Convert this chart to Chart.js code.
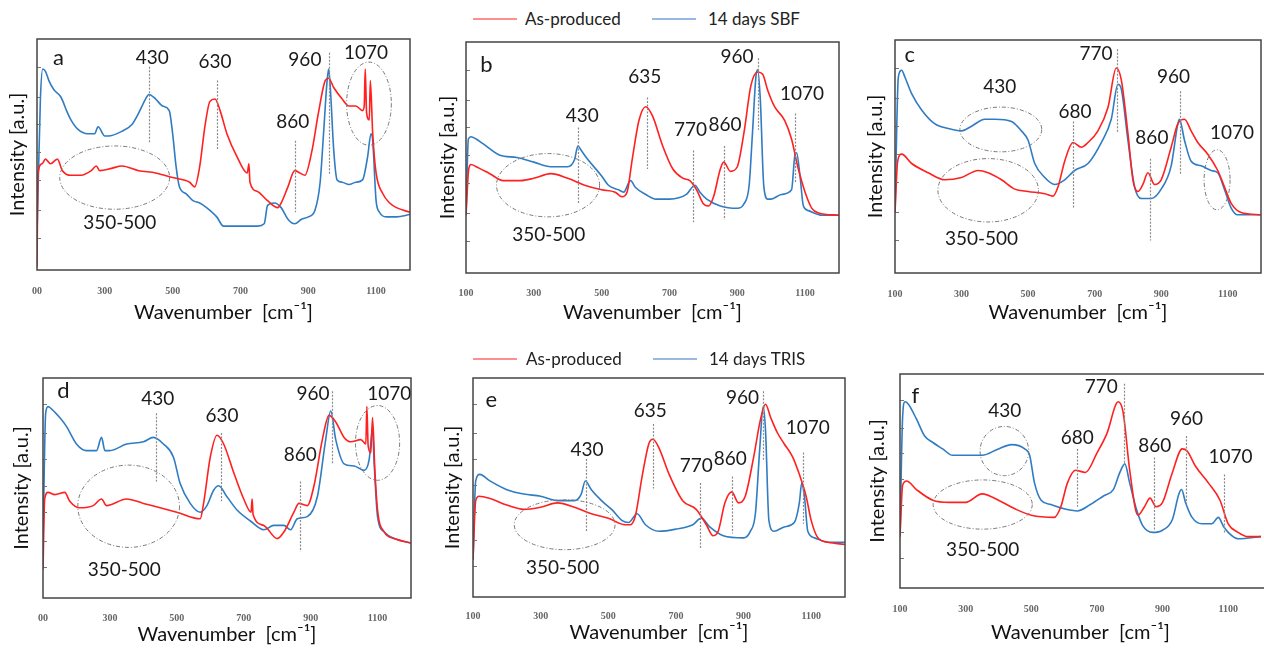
<!DOCTYPE html>
<html><head><meta charset="utf-8">
<script src="https://cdn.jsdelivr.net/npm/chart.js@4.4.1/dist/chart.umd.min.js"></script>
<style>
html,body{margin:0;padding:0;background:#fff;width:1264px;height:648px;overflow:hidden;font-family:Lato,"Open Sans",sans-serif;}
.pc{position:absolute;}
.lg{position:absolute;font-family:Lato,sans-serif;font-size:17px;color:#222;white-space:nowrap;z-index:5;}
.ln{position:absolute;height:2px;z-index:5;}
</style></head><body>

<div class="ln" style="left:473px;top:18px;width:44px;background:#ff8e8e"></div>
<div class="lg" style="left:525px;top:8px">As-produced</div>
<div class="ln" style="left:652px;top:18px;width:44px;background:#98b9e4"></div>
<div class="lg" style="left:708px;top:8px">14 days SBF</div>
<div class="ln" style="left:473px;top:358px;width:44px;background:#ff8e8e"></div>
<div class="lg" style="left:526px;top:348px">As-produced</div>
<div class="ln" style="left:653px;top:358px;width:44px;background:#98b9e4"></div>
<div class="lg" style="left:709px;top:348px">14 days TRIS</div>

<canvas id="ca" class="pc"></canvas>
<canvas id="cb" class="pc"></canvas>
<canvas id="cc" class="pc"></canvas>
<canvas id="cd" class="pc"></canvas>
<canvas id="ce" class="pc"></canvas>
<canvas id="cf" class="pc"></canvas>

<script>
// ---- tick labels ----
const xTickValues = [100, 300, 500, 700, 900, 1100];
const xTickLabelsCut = ['00', '300', '500', '700', '900', '1100'];
const xTickLabelsFull = ['100', '300', '500', '700', '900', '1100'];
const yTickValues = [14, 26, 39, 51, 63, 75, 88];
const seriesNames = ['As-produced', '14 days SBF', '14 days TRIS'];

// ---- panel a ----
const aRedX = [100,103,115,125,140,160,175,200,230,260,275,285,320,350,400,450,500,550,565,580,595,610,625,640,660,690,720,725,728,750,780,810,820,840,860,875,890,910,930,950,960,975,1000,1020,1040,1060,1065,1068,1072,1080,1083,1090,1100,1120,1140,1160,1200];
const aRedY = [1.5,42,46,48,46,48,43,41,41,43,45,43,44,45,43,42,40,38,36,45,62,73,74,69,59,49,42,46,38,34,30,27,29,36,43,42,41,51,68,82,83,79,74,71,71,69,71,87,68,65,82,59,42,33,29,27,25];
const aBlueX = [100,110,117,125,135,150,170,190,200,220,250,270,280,300,310,350,380,400,420,430,450,470,490,500,510,520,540,560,580,600,630,650,700,750,770,780,800,820,840,860,880,900,920,935,945,955,960,965,975,985,1000,1020,1040,1060,1075,1085,1090,1100,1110,1130,1160,1200];
const aBlueY = [15,74,87,86,82,78,75,68,65,61,59,59,62,58,58,60,63,68,74,76,74,71,69,59,45,36,33,30,29,27,23,19,19,19,20,28,29,27,22,20,22,23,26,38,59,81,87,79,52,39,38,37,38,39,49,59,56,30,25,23,23,24];

// ---- panel b ----
const bRedX = [100,108,115,130,170,210,260,300,350,400,450,500,540,560,575,590,610,630,650,680,710,740,760,780,800,815,830,850,860,880,900,920,940,960,975,990,1010,1040,1060,1080,1100,1120,1140,1200];
const bRedY = [25,45,47,46,43,40,40,41,43,41,38,36,35,33,35,49,66,72,68,55,45,41,40,36,30,29,33,45,48,44,46,61,81,87,86,79,72,66,58,45,35,28,26,25];
const bBlueX = [100,107,115,130,150,200,250,300,350,400,420,430,440,460,500,520,550,565,585,600,630,660,700,750,775,790,810,850,900,920,935,945,955,960,968,978,990,1000,1030,1060,1070,1075,1085,1095,1110,1150,1200];
const bBlueY = [25,58,59,58,56,51,50,48,46,46,49,55,53,49,42,38,36,35,40,37,34,32,32,34,38,35,32,29,28,30,38,61,85,88,75,38,32,32,34,36,51,52,42,29,27,25,25];

// ---- panel c ----
const cRedX = [100,108,120,150,200,250,300,350,380,420,460,500,550,575,590,610,635,660,680,710,740,765,780,800,815,830,845,860,880,900,930,950,970,990,1010,1040,1070,1090,1110,1140,1200];
const cRedY = [26,48,51,47,43,40,41,44,43,40,36,35,34,33,37,48,56,54,56,61,71,88,83,60,40,35,38,43,38,40,54,64,66,61,56,51,44,37,30,26,25];
const cBlueX = [100,110,120,130,150,180,220,260,300,330,370,400,450,480,500,520,550,580,610,640,680,720,750,770,780,800,820,840,870,900,930,950,955,970,990,1020,1050,1070,1090,1110,1130,1200];
const cBlueY = [26,84,87,84,77,70,64,62,61,63,66,66,65,61,57,47,41,38,40,44,47,56,66,81,79,57,37,32,32,36,46,64,66,57,48,46,44,43,36,28,25,25];

// ---- panel d ----
const dRedX = [100,105,115,135,165,180,210,250,275,290,350,400,450,500,570,580,600,620,640,670,700,722,725,728,760,800,820,850,865,890,910,935,955,975,1000,1020,1050,1065,1068,1072,1080,1085,1092,1100,1120,1150,1200];
const dRedY = [13,45,48,47,48,44,41,42,45,42,45,43,41,39,36,43,64,74,70,57,45,39,45,38,33,27,30,39,43,42,51,72,83,80,73,71,72,70,87,69,66,82,58,40,30,27,25];
const dBlueX = [100,108,115,125,150,170,200,230,260,275,285,300,350,400,430,460,490,510,540,570,590,610,625,650,680,720,760,790,820,840,860,890,920,945,960,975,1000,1030,1060,1075,1085,1090,1100,1120,1150,1200];
const dBlueY = [25,84,87,86,82,78,70,67,67,73,67,67,70,71,73,70,64,52,43,39,42,49,51,46,40,35,31,33,33,31,36,37,46,72,85,72,61,60,58,63,77,61,37,30,27,25];

// ---- panel e ----
const eRedX = [100,108,118,150,200,250,300,350,400,450,500,550,565,580,600,620,632,650,680,720,760,790,810,825,845,865,885,905,930,950,965,980,1000,1020,1045,1065,1085,1100,1120,1150,1200];
const eRedY = [17,44,46,45,42,40,41,43,41,38,36,33,33,37,55,70,72,68,56,44,40,33,28,30,43,48,43,46,64,81,88,82,75,70,64,56,46,35,27,25,24];
const eBlueX = [100,108,120,150,200,250,300,350,400,420,432,450,480,510,540,560,585,610,650,700,750,775,800,840,900,920,935,948,958,965,975,990,1020,1050,1065,1072,1080,1090,1110,1150,1200];
const eBlueY = [17,53,56,53,49,47,46,44,44,47,53,49,44,40,35,34,38,33,30,31,33,36,32,28,27,30,38,68,87,76,35,30,32,34,43,52,46,30,27,25,25];

// ---- panel f ----
const fRedX = [100,108,120,150,200,250,300,350,400,450,500,570,590,610,635,665,700,730,765,780,800,825,845,862,880,900,930,960,975,1000,1040,1075,1100,1130,1160,1200];
const fRedY = [24,48,50,46,41,40,40,44,41,37,34,33,38,49,55,54,63,72,87,82,55,34,38,42,38,40,54,65,64,57,49,41,30,26,24,24];
const fBlueX = [100,108,115,125,150,175,200,230,260,300,350,400,440,480,495,510,530,560,600,640,680,720,750,770,785,800,820,840,870,900,930,950,958,970,990,1020,1050,1070,1085,1100,1130,1200];
const fBlueY = [24,80,87,86,79,71,68,65,62,62,62,65,67,65,62,49,41,39,37,36,39,43,46,54,58,49,37,29,26,27,32,44,46,40,33,30,30,33,29,26,23,24];

// ---- annotations (text, x value, y value) ----
const annA = {letter:['a',163,92],
  labels:[['430',440,92],['630',625,90],['960',890,91],['1070',1070,94],['860',854,64],['350-500',344,20.5]],
  lines:[[430,88,55],[630,82,52],[960,94,41],[860,56,25]],
  ellipses:[[329,40,162,13.7],[1079,72,66,18]]};
const annB = {letter:['b',160,90],
  labels:[['430',443,68],['635',627,85],['770',762,62],['860',864,64],['960',899,93.5],['1070',1091,77.5],['350-500',344,16.6]],
  lines:[[430,63,30],[635,76,45],[770,53,22],[860,55,23],[960,93,62],[1070,69,39]],
  ellipses:[[342,38,152,13.7]]};
const annC = {letter:['c',144,93.6],
  labels:[['430',415,80],['680',641,69],['770',704,94],['860',872,58],['960',937,84],['1070',1113,60],['350-500',360,14.8]],
  lines:[[636,65,27.6],[767,96,60],[867,49,14],[957,78,42]],
  ellipses:[[418,61.6,123,9.6],[1068,40,39,12.9],[380,35.5,151,13.6]]};
const annD = {letter:['d',161,94],
  labels:[['430',443,90.6],['630',635,82.6],['860',869,65],['960',907,93],['1070',1135,93],['350-500',343,12.9]],
  lines:[[438,84,53],[633,75,44],[868,53,21],[965,94,61]],
  ellipses:[[356,41.7,152,18.7],[1100,70.5,66,17]]};
const annE = {letter:['e',154,90],
  labels:[['430',437,67.4],['635',624,85],['770',760,60],['860',861,63],['960',897,91],['1070',1090,77],['350-500',365,13.2]],
  lines:[[434,63,30],[631,79,49.5],[770,52,22],[865,55,29],[957,94,62],[1075,66,33.5]],
  ellipses:[[371,33,149,11.4]]};
const annF = {letter:['f',147,89.6],
  labels:[['430',419,83],['680',640,70],['770',713,94],['860',876,66.5],['960',973,79],['1070',1107,61.5],['350-500',352,18]],
  lines:[[640,65,38],[782,95.5,57.6],[873,61,27],[972,71,38],[1087,53,25.7]],
  ellipses:[[418,64,74,11.5],[352,39,151,11.5]]};

const RED = '#ff2020', BLUE = '#2f7cc3';

const panels = [
  {id:'ca', left:6,   top:29,  w:409, h:296, yW:31, xH:55, padR:5, tickPad:7, ticks:xTickLabelsCut,  red:[aRedX,aRedY], blue:[aBlueX,aBlueY], ann:annA, border:true, blueName:seriesNames[1]},
  {id:'cb', left:436, top:32,  w:408, h:293, yW:30, xH:52, padR:5, tickPad:6, ticks:xTickLabelsFull, red:[bRedX,bRedY], blue:[bBlueX,bBlueY], ann:annB, border:true, blueName:seriesNames[1]},
  {id:'cc', left:864, top:30,  w:399, h:295, yW:31, xH:52, padR:2, tickPad:7, ticks:xTickLabelsFull, red:[cRedX,cRedY], blue:[cBlueX,cBlueY], ann:annC, border:true, blueName:seriesNames[1]},
  {id:'cd', left:10,  top:368, w:405, h:279, yW:33, xH:49, padR:4, tickPad:6, ticks:xTickLabelsCut,  red:[dRedX,dRedY], blue:[dBlueX,dBlueY], ann:annD, border:true, blueName:seriesNames[2]},
  {id:'ce', left:441, top:368, w:408, h:277, yW:32, xH:48, padR:4, tickPad:5, ticks:xTickLabelsFull, red:[eRedX,eRedY], blue:[eBlueX,eBlueY], ann:annE, border:true, blueName:seriesNames[2]},
  {id:'cf', left:866, top:364, w:398, h:281, yW:34, xH:57, padR:3, tickPad:7, ticks:xTickLabelsFull, red:[fRedX,fRedY], blue:[fBlueX,fBlueY], ann:annF, border:false, blueName:seriesNames[2]}
];

const annotPlugin = {
  id: 'annot',
  afterDatasetsDraw(chart, args, opts) {
    const ctx = chart.ctx, xs = chart.scales.x, ys = chart.scales.y, ca = chart.chartArea;
    const A = opts.ann;
    ctx.save();
    ctx.strokeStyle = '#777'; ctx.lineWidth = 1;
    yTickValues.forEach(v => {
      const y = Math.round(ys.getPixelForValue(v)) + 0.5;
      ctx.beginPath(); ctx.moveTo(ca.left, y); ctx.lineTo(ca.left + 4, y); ctx.stroke();
    });
    ctx.strokeStyle = '#8a8a8a'; ctx.lineWidth = 1.2; ctx.setLineDash([2, 1.5]);
    A.lines.forEach(([x, y1, y2]) => {
      const px = Math.round(xs.getPixelForValue(x)) + 0.5;
      ctx.beginPath(); ctx.moveTo(px, ys.getPixelForValue(y1)); ctx.lineTo(px, ys.getPixelForValue(y2)); ctx.stroke();
    });
    ctx.strokeStyle = '#777'; ctx.lineWidth = 1; ctx.setLineDash([4, 2, 1, 2]);
    A.ellipses.forEach(([cx, cy, rx, ry]) => {
      const px = xs.getPixelForValue(cx), py = ys.getPixelForValue(cy);
      const prx = Math.abs(xs.getPixelForValue(cx + rx) - px), pry = Math.abs(ys.getPixelForValue(cy + ry) - py);
      ctx.beginPath(); ctx.ellipse(px, py, prx, pry, 0, 0, Math.PI * 2); ctx.stroke();
    });
    ctx.setLineDash([]);
    ctx.fillStyle = '#1a1a1a'; ctx.textAlign = 'center'; ctx.textBaseline = 'middle';
    ctx.font = '19px Lato, "Open Sans", sans-serif';
    A.labels.forEach(([t, x, y]) => ctx.fillText(t, xs.getPixelForValue(x), ys.getPixelForValue(y)));
    ctx.font = '22px Lato, "Open Sans", sans-serif';
    const L = A.letter;
    ctx.fillText(L[0], xs.getPixelForValue(L[1]), ys.getPixelForValue(L[2]));
    ctx.strokeStyle = '#444'; ctx.lineWidth = 1.5;
    if (opts.border) {
      ctx.strokeRect(ca.left, ca.top, ca.right - ca.left, ca.bottom - ca.top);
    } else {
      ctx.beginPath(); ctx.moveTo(ca.right + 3, ca.top); ctx.lineTo(ca.left, ca.top); ctx.lineTo(ca.left, ca.bottom); ctx.lineTo(ca.right + 3, ca.bottom); ctx.stroke();
    }
    ctx.restore();
  }
};

function toPts(xa, ya) { return xa.map((x, i) => ({x: x, y: ya[i]})); }

panels.forEach(p => {
  const cv = document.getElementById(p.id);
  cv.width = p.w; cv.height = p.h;
  cv.style.left = p.left + 'px'; cv.style.top = p.top + 'px';
  cv.style.width = p.w + 'px'; cv.style.height = p.h + 'px';
  new Chart(cv, {
    type: 'line',
    data: {
      datasets: [
        {label: seriesNames[0], data: toPts(p.red[0], p.red[1]), borderColor: RED, borderWidth: 1.6, pointRadius: 0, cubicInterpolationMode: 'monotone', fill: false},
        {label: p.blueName, data: toPts(p.blue[0], p.blue[1]), borderColor: BLUE, borderWidth: 1.6, pointRadius: 0, cubicInterpolationMode: 'monotone', fill: false}
      ]
    },
    options: {
      responsive: false, animation: false, devicePixelRatio: 1,
      layout: {padding: {top: 10, right: p.padR, left: 0, bottom: 0}},
      plugins: {legend: {display: false}, tooltip: {enabled: false}, annot: {ann: p.ann, border: p.border}},
      scales: {
        x: {
          type: 'linear', min: 100, max: 1200,
          afterBuildTicks: s => { s.ticks = xTickValues.map(v => ({value: v})); },
          afterFit: s => { s.height = p.xH; },
          grid: {display: false}, border: {display: false},
          ticks: {autoSkip: false, maxRotation: 0, padding: p.tickPad, color: '#666',
            font: {family: '"Liberation Serif", serif', size: 10, weight: 'bold'},
            callback: (v) => { const i = xTickValues.indexOf(v); return i >= 0 ? p.ticks[i] : ''; }},
          title: {display: true, text: 'Wavenumber  [cm\u207B\u00B9]', color: '#111', padding: {top: 0, bottom: 0},
            font: {family: 'Lato, "Open Sans", sans-serif', size: 20}}
        },
        y: {
          min: 0, max: 100,
          afterFit: s => { s.width = p.yW; },
          grid: {display: false}, border: {display: false},
          ticks: {display: false},
          title: {display: true, text: 'Intensity [a.u.]', color: '#111', padding: {top: 0, bottom: 0},
            font: {family: 'Lato, "Open Sans", sans-serif', size: 20}}
        }
      }
    },
    plugins: [annotPlugin]
  });
});
</script>
</body></html>
